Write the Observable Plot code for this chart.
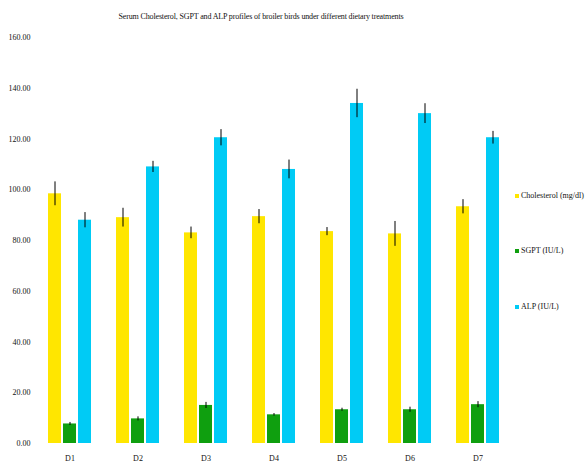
<!DOCTYPE html>
<html>
<head>
<meta charset="utf-8">
<script src="https://cdn.jsdelivr.net/npm/d3@7"></script>
<script src="https://cdn.jsdelivr.net/npm/@observablehq/plot@0.6"></script>
<style>
  html, body { margin: 0; padding: 0; background: #fff; }
  #wrap { position: relative; width: 585px; height: 462px; overflow: hidden; font-family: "Liberation Serif", "DejaVu Serif", serif; }
  #title { position: absolute; left: 0; top: 12px; width: 522px; text-align: center; font-size: 8px; color: #111; white-space: nowrap; letter-spacing: -0.15px; }
  #chart { position: absolute; left: 0; top: 28px; }
  #legend { position: absolute; left: 515px; top: 0; width: 70px; height: 462px; font-size: 8px; color: #111; }
  .item { position: absolute; left: 0; white-space: nowrap; display: flex; align-items: center; }
  .sw { display: inline-block; width: 4px; height: 4px; margin-right: 2px; }
</style>
</head>
<body>
<div id="wrap">
  <div id="title">Serum Cholesterol, SGPT and ALP profiles of broiler birds under different dietary treatments</div>
  <div id="chart"></div>
  <div id="legend"></div>
</div>
<script>
const treatments = ["D1", "D2", "D3", "D4", "D5", "D6", "D7"];
const seriesNames = ["Cholesterol (mg/dl)", "SGPT (IU/L)", "ALP (IU/L)"];
const seriesColors = ["#ffe600", "#0f9f0f", "#00cbf5"];
const cholesterol = [98.4, 89.0, 83.0, 89.4, 83.5, 82.6, 93.3];
const cholesterolErr = [4.7, 3.7, 2.3, 2.8, 1.6, 4.9, 2.8];
const sgpt = [7.7, 9.7, 15.0, 11.3, 13.3, 13.3, 15.3];
const sgptErr = [0.6, 0.8, 1.2, 0.5, 0.6, 1.0, 1.2];
const alp = [88.0, 109.0, 120.5, 108.0, 134.0, 130.0, 120.5];
const alpErr = [3.0, 2.2, 3.2, 3.7, 5.6, 3.9, 2.5];
const yTicks = [0, 20, 40, 60, 80, 100, 120, 140, 160];

const valuesBySeries = [cholesterol, sgpt, alp];
const errBySeries = [cholesterolErr, sgptErr, alpErr];
const rows = [];
treatments.forEach((t, i) => {
  seriesNames.forEach((s, j) => {
    rows.push({treatment: t, series: s, value: valuesBySeries[j][i], err: errBySeries[j][i]});
  });
});

const chart = Plot.plot({
  width: 508,
  height: 434,
  marginLeft: 40,
  marginRight: 1,
  marginTop: 9,
  marginBottom: 19,
  style: {fontFamily: "Liberation Serif, serif", fontSize: "8px", color: "#111", background: "#fff"},
  fx: {domain: treatments, paddingInner: 0.34, paddingOuter: 0.08, label: null, axis: "bottom", tickSize: 0, tickPadding: 12},
  x: {domain: seriesNames, paddingInner: 0.15, paddingOuter: 0, axis: null},
  y: {domain: [0, 160], ticks: yTicks, tickFormat: d3.format(".2f"), tickSize: 0, tickPadding: 17, label: null, axis: "left"},
  color: {domain: seriesNames, range: seriesColors},
  marks: [
    Plot.barY(rows, {fx: "treatment", x: "series", y: "value", fill: "series"}),
    Plot.ruleX(rows, {fx: "treatment", x: "series", y1: d => d.value - d.err, y2: d => d.value + d.err, stroke: "#000", strokeWidth: 1})
  ]
});
document.getElementById("chart").appendChild(chart);

const legendTops = [191, 246, 302];
const legend = document.getElementById("legend");
seriesNames.forEach((s, j) => {
  const it = document.createElement("div");
  it.className = "item";
  it.style.top = legendTops[j] + "px";
  const sw = document.createElement("span");
  sw.className = "sw";
  sw.style.background = seriesColors[j];
  it.appendChild(sw);
  it.appendChild(document.createTextNode(s));
  legend.appendChild(it);
});
</script>
</body>
</html>
